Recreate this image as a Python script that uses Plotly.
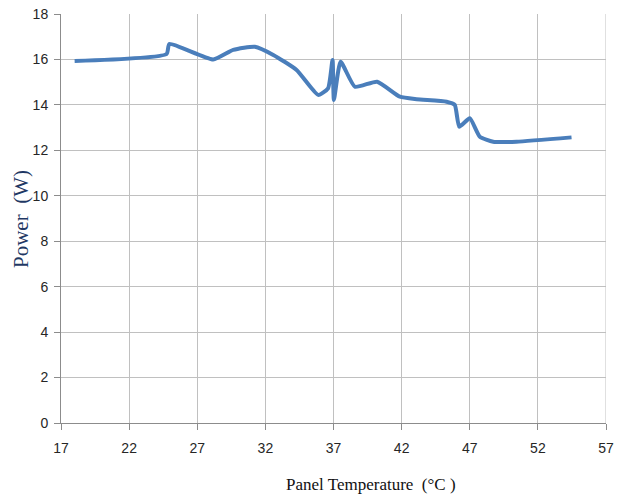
import plotly.graph_objects as go

temperature = [18.0, 24.75, 24.95, 28.17, 29.64, 31.23, 32.58, 34.29, 35.88, 36.6, 36.93, 37.03,
               37.52, 38.57, 40.2, 41.87, 43.1, 45.3, 45.9, 46.23, 47.0, 47.74, 48.72, 50.43, 54.47]
power = [15.93, 16.24, 16.68, 16.0, 16.42, 16.56, 16.2, 15.54, 14.44, 14.73, 15.98, 14.22,
         15.9, 14.8, 15.02, 14.36, 14.25, 14.14, 14.0, 13.04, 13.41, 12.6, 12.38, 12.38, 12.57]

x_ticks = [17, 22, 27, 32, 37, 42, 47, 52, 57]
y_ticks = [0, 2, 4, 6, 8, 10, 12, 14, 16, 18]

x_title = "Panel Temperature  (°C )"
y_title = "Power  (W)"

fig = go.Figure()
fig.add_trace(go.Scatter(
    x=temperature, y=power, mode="lines",
    line=dict(color="#4a7ebb", width=4, shape="spline", smoothing=0.5),
    showlegend=False, hoverinfo="skip",
))

tick_font = dict(family="Liberation Sans, Arial, sans-serif", size=14, color="#262626")
serif = "Liberation Serif, Times New Roman, serif"

fig.update_layout(
    width=624, height=498,
    margin=dict(l=61, r=18, t=14, b=75),
    paper_bgcolor="white", plot_bgcolor="white",
    xaxis=dict(
        range=[17, 57], tickvals=x_ticks, ticktext=[str(v) for v in x_ticks],
        showgrid=True, gridcolor="#c0c0c0", gridwidth=1,
        showline=True, linecolor="#8c8c8c", linewidth=1,
        ticks="outside", ticklen=6, tickcolor="#8c8c8c",
        tickfont=tick_font, zeroline=False, automargin=False,
        ticklabeloverflow="allow", ticklabelstandoff=6,
    ),
    yaxis=dict(
        range=[0, 18], tickvals=y_ticks, ticktext=[str(v) for v in y_ticks],
        showgrid=True, gridcolor="#c0c0c0", gridwidth=1,
        showline=True, linecolor="#8c8c8c", linewidth=1,
        ticks="outside", ticklen=6, tickcolor="#8c8c8c",
        tickfont=tick_font, zeroline=False, automargin=False,
        ticklabeloverflow="allow", ticklabelstandoff=3,
    ),
    annotations=[
        dict(text=x_title, xref="paper", yref="paper", x=(371 - 61) / 545, y=-(485 - 423) / 409,
             showarrow=False, xanchor="center", yanchor="middle",
             font=dict(family=serif, size=17, color="#111111")),
        dict(text=y_title, xref="paper", yref="paper", x=-(61 - 21) / 545, y=(423 - 219) / 409,
             showarrow=False, xanchor="center", yanchor="middle", textangle=-90,
             font=dict(family=serif, size=21, color="#1f3864")),
    ],
)

fig.add_shape(type="line", xref="x", yref="paper", x0=57, x1=57, y0=0, y1=1,
              line=dict(color="#c0c0c0", width=1))

# remove the default 8px page margin so the figure sits at the window's top-left corner
fig.write_html("out.html", config={"displayModeBar": False},
               post_script="document.body.style.margin='0';")
